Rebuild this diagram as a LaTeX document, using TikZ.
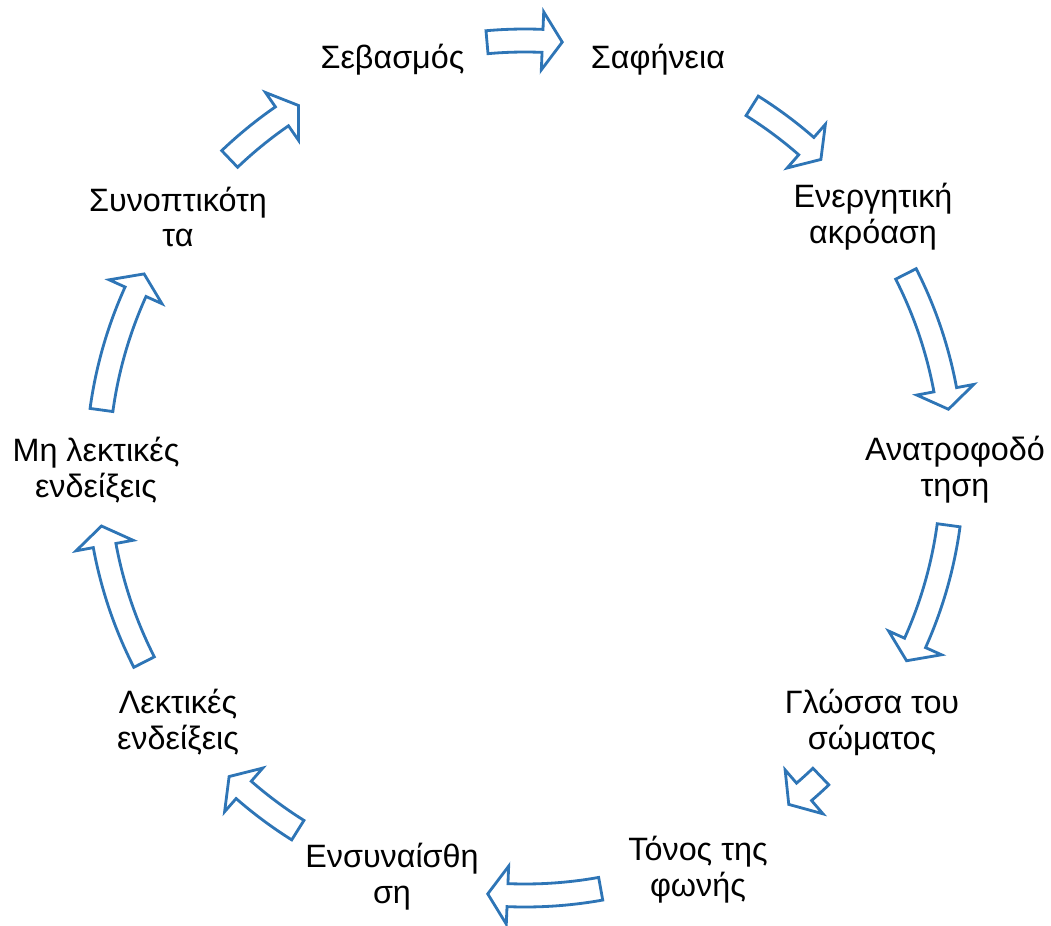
\documentclass[tikz,border=0pt]{standalone}
\usepackage{fontspec}
\setmainfont{Liberation Sans}
\usepackage{xcolor}
\usepackage{tikz}
\usetikzlibrary{positioning}
\definecolor{arrowblue}{RGB}{46,117,182}

% hollow block arrow along the ring: tail angle, tip angle
\newcommand{\cyclearrow}[2]{%
  \pgfmathsetmacro{\arrowbase}{#2+2.65}
  \draw[ringarrow] (#1:8.78) arc[start angle=#1, end angle=\arrowbase, radius=8.78]
    -- (\arrowbase:9.13) -- (#2:8.55) -- (\arrowbase:7.97) -- (\arrowbase:8.32)
    arc[start angle=\arrowbase, end angle=#1, radius=8.32] -- cycle;}

\begin{document}
\begin{tikzpicture}[
    label/.style={align=center, font=\fontsize{18.4}{20.4}\selectfont},
    ringarrow/.style={draw=arrowblue, line width=1.6pt, line join=miter, fill=white}
]
    \useasboundingbox (-10.5,-9.14) rectangle (10.52,9.36);

    % Cycle steps
    \node[label] (sevasmos) at (-2.65,8.16) {Σεβασμός};
    \node[label] (safineia) at (2.66,8.16) {Σαφήνεια};
    \node[label] (akroasi) at (6.96,5.02) {Ενεργητική\\ακρόαση};
    \node[label] (anatrofodotisi) at (8.6,-0.04) {Ανατροφοδό\\τηση};
    \node[label] (glossa) at (6.94,-5.08) {Γλώσσα του\\σώματος};
    \node[label] (tonos) at (3.46,-8.04) {Τόνος της\\φωνής};
    \node[label] (ensynaisthisi) at (-2.66,-8.18) {Ενσυναίσθη\\ση};
    \node[label] (lektikes) at (-6.94,-5.08) {Λεκτικές\\ενδείξεις};
    \node[label] (milektikes) at (-8.58,-0.04) {Μη λεκτικές\\ενδείξεις};
    \node[label] (synoptikotita) at (-6.94,5.02) {Συνοπτικότη\\τα};

    % Arrows round the ring
    \cyclearrow{95.1}{85.0}
    \cyclearrow{57.9}{46.2}
    \cyclearrow{27.0}{7.9}
    \cyclearrow{-7.7}{-26.8}
    \cyclearrow{-46.2}{-51.9}
    \cyclearrow{-79.8}{-95.0}
    \cyclearrow{-122.1}{-133.8}
    \cyclearrow{-153.0}{-172.2}
    \cyclearrow{-187.8}{-207.0}
    \cyclearrow{-226.3}{-238.0}
\end{tikzpicture}
\end{document}
